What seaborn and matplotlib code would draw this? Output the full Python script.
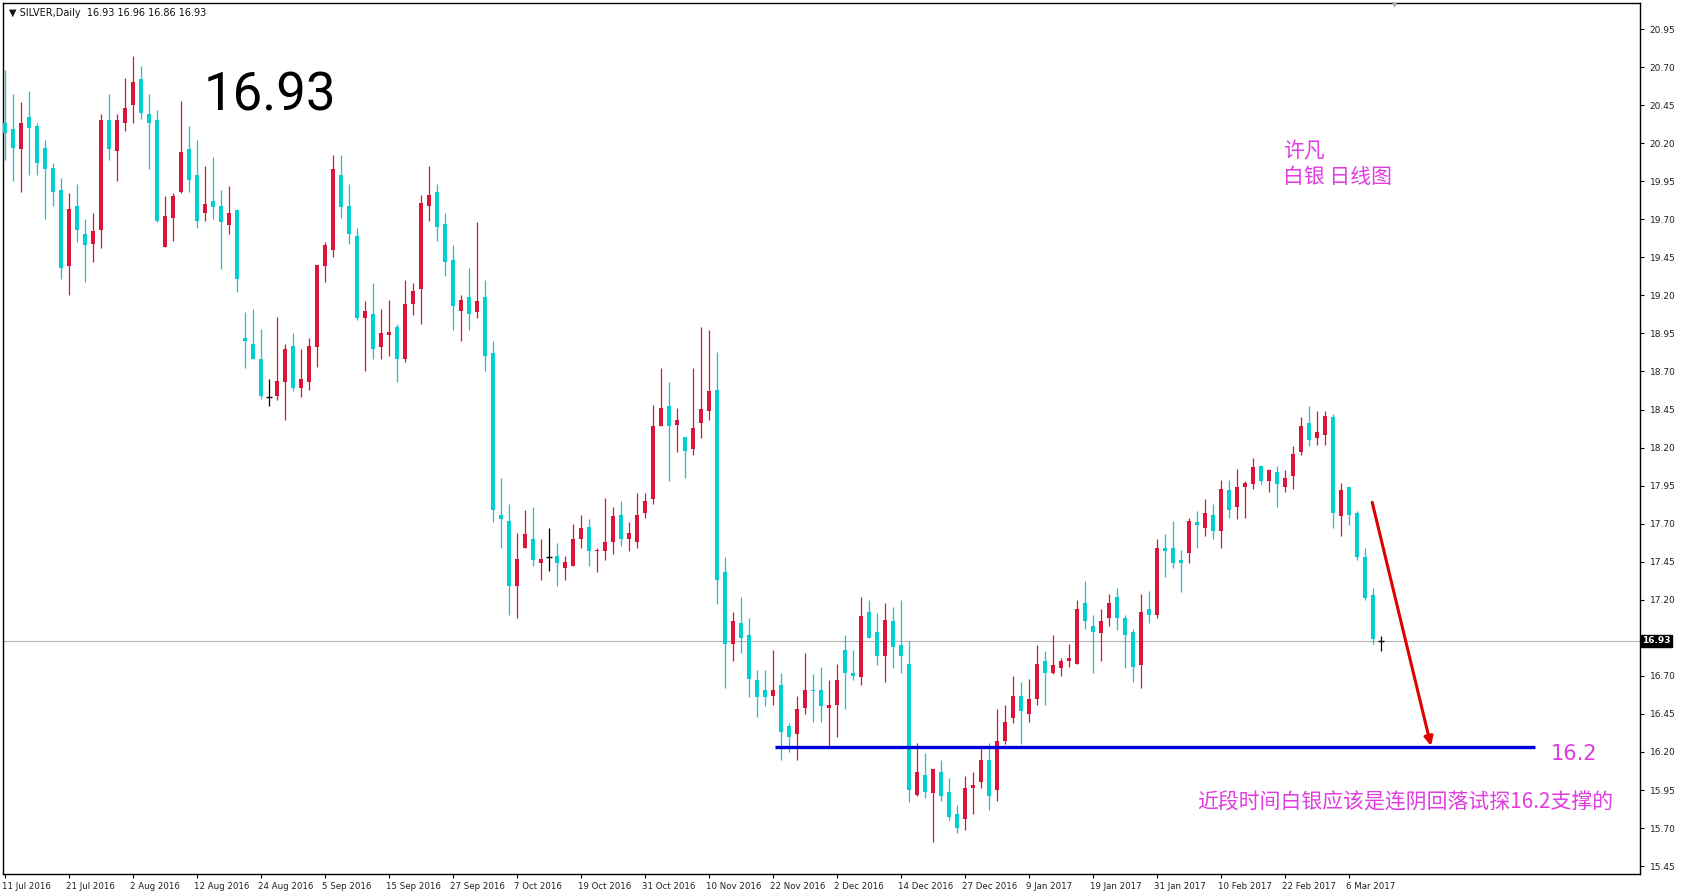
import numpy as np
import pandas as pd
import matplotlib
matplotlib.use("Agg")
import matplotlib.pyplot as plt
import matplotlib.transforms as mtransforms
import seaborn as sns

# ---------------- data ----------------
opens = [20.33, 20.29, 20.16, 20.37, 20.31, 20.17, 20.04, 19.89, 19.39, 19.79,
         19.60, 19.54, 19.63, 20.35, 20.15, 20.33, 20.45, 20.62, 20.39, 20.35,
         19.52, 19.71, 19.88, 20.16, 19.99, 19.74, 19.82, 19.79, 19.66, 19.76,
         18.92, 18.88, 18.78, 18.53, 18.54, 18.63, 18.87, 18.59, 18.63, 18.86,
         19.39, 19.50, 19.99, 19.79, 19.59, 19.05, 19.08, 18.86, 18.94, 18.99,
         18.78, 19.14, 19.24, 19.79, 19.88, 19.67, 19.43, 19.10, 19.19, 19.09,
         19.19, 18.82, 17.76, 17.72, 17.29, 17.54, 17.60, 17.44, 17.48, 17.49,
         17.41, 17.42, 17.60, 17.68, 17.52, 17.52, 17.58, 17.76, 17.60, 17.58,
         17.77, 17.86, 18.34, 18.47, 18.35, 18.27, 18.19, 18.36, 18.44, 18.58,
         17.38, 16.91, 17.05, 16.97, 16.67, 16.61, 16.57, 16.64, 16.37, 16.32,
         16.49, 16.61, 16.61, 16.49, 16.51, 16.87, 16.72, 16.69, 17.12, 16.99,
         16.83, 17.06, 16.90, 16.78, 15.92, 16.05, 15.93, 16.07, 15.94, 15.79,
         15.76, 15.96, 16.00, 16.15, 15.95, 16.27, 16.42, 16.57, 16.45, 16.55,
         16.80, 16.72, 16.75, 16.80, 16.78, 17.18, 17.03, 16.98, 17.08, 17.22,
         17.08, 16.99, 16.77, 17.14, 17.10, 17.54, 17.54, 17.46, 17.51, 17.71,
         17.67, 17.76, 17.65, 17.92, 17.81, 17.94, 17.96, 18.08, 17.98, 18.04,
         17.94, 18.01, 18.17, 18.36, 18.26, 18.28, 18.40, 17.75, 17.94, 17.77,
         17.48, 17.23, 16.93]
highs = [20.68, 20.52, 20.47, 20.54, 20.33, 20.22, 20.07, 19.97, 19.87, 19.93,
         19.70, 19.74, 20.39, 20.52, 20.39, 20.63, 20.77, 20.71, 20.52, 20.42,
         19.85, 19.87, 20.48, 20.31, 20.22, 20.05, 20.11, 19.89, 19.92, 19.77,
         19.09, 19.11, 18.98, 18.65, 19.06, 18.88, 18.95, 18.85, 18.92, 19.40,
         19.55, 20.12, 20.12, 19.93, 19.64, 19.16, 19.28, 19.11, 19.17, 19.01,
         19.30, 19.28, 19.86, 20.05, 19.93, 19.74, 19.53, 19.20, 19.38, 19.68,
         19.30, 18.90, 18.00, 17.83, 17.64, 17.79, 17.81, 17.60, 17.67, 17.57,
         17.49, 17.70, 17.76, 17.73, 17.54, 17.87, 17.81, 17.85, 17.71, 17.90,
         17.90, 18.48, 18.72, 18.63, 18.46, 18.27, 18.72, 18.99, 18.97, 18.83,
         17.48, 17.12, 17.22, 17.08, 16.74, 16.74, 16.87, 16.72, 16.39, 16.57,
         16.85, 16.71, 16.76, 16.67, 16.78, 16.97, 16.87, 17.22, 17.20, 17.11,
         17.18, 17.15, 17.20, 16.93, 16.26, 16.19, 16.09, 16.15, 16.03, 15.85,
         16.04, 16.07, 16.23, 16.26, 16.48, 16.51, 16.70, 16.66, 16.68, 16.90,
         16.86, 16.97, 16.82, 16.91, 17.20, 17.32, 17.10, 17.14, 17.24, 17.28,
         17.10, 17.01, 17.24, 17.26, 17.60, 17.63, 17.72, 17.53, 17.74, 17.78,
         17.86, 17.83, 17.99, 17.99, 18.06, 17.98, 18.13, 18.08, 18.06, 18.08,
         18.05, 18.21, 18.40, 18.47, 18.44, 18.44, 18.42, 17.97, 17.94, 17.78,
         17.54, 17.28, 16.96]
lows = [20.09, 19.95, 19.88, 19.99, 19.99, 19.70, 19.79, 19.31, 19.20, 19.55,
        19.29, 19.42, 19.51, 20.09, 19.95, 20.28, 20.33, 20.36, 20.03, 19.68,
        19.52, 19.56, 19.87, 19.88, 19.64, 19.69, 19.70, 19.37, 19.60, 19.22,
        18.72, 18.78, 18.52, 18.47, 18.51, 18.38, 18.57, 18.53, 18.58, 18.73,
        19.29, 19.45, 19.71, 19.54, 19.04, 18.70, 18.78, 18.78, 18.80, 18.63,
        18.76, 19.07, 19.01, 19.69, 19.56, 19.33, 18.97, 18.90, 18.97, 19.05,
        18.70, 17.71, 17.54, 17.10, 17.08, 17.54, 17.42, 17.33, 17.39, 17.29,
        17.33, 17.42, 17.54, 17.42, 17.38, 17.46, 17.50, 17.55, 17.52, 17.54,
        17.74, 17.83, 18.34, 17.98, 18.17, 18.00, 18.15, 18.26, 18.38, 17.17,
        16.62, 16.80, 16.85, 16.56, 16.43, 16.50, 16.51, 16.15, 16.20, 16.15,
        16.45, 16.40, 16.40, 16.24, 16.30, 16.48, 16.67, 16.64, 16.95, 16.77,
        16.66, 16.75, 16.72, 15.87, 15.91, 15.90, 15.61, 15.88, 15.75, 15.67,
        15.69, 15.79, 15.96, 15.82, 15.88, 16.25, 16.39, 16.25, 16.40, 16.51,
        16.51, 16.71, 16.70, 16.76, 16.78, 17.01, 16.72, 16.80, 17.03, 17.00,
        16.75, 16.66, 16.62, 17.05, 17.08, 17.35, 17.41, 17.25, 17.44, 17.54,
        17.62, 17.60, 17.54, 17.74, 17.73, 17.74, 17.93, 17.96, 17.91, 17.81,
        17.91, 17.93, 18.15, 18.21, 18.22, 18.22, 17.67, 17.62, 17.69, 17.46,
        17.20, 16.91, 16.86]
closes = [20.265, 20.17, 20.33, 20.30, 20.07, 20.03, 19.88, 19.38, 19.77, 19.63,
          19.53, 19.62, 20.35, 20.16, 20.35, 20.43, 20.60, 20.40, 20.33, 19.69,
          19.72, 19.85, 20.14, 19.96, 19.69, 19.80, 19.78, 19.68, 19.74, 19.31,
          18.90, 18.78, 18.54, 18.53, 18.64, 18.85, 18.59, 18.65, 18.87, 19.40,
          19.53, 20.03, 19.78, 19.60, 19.05, 19.10, 18.85, 18.95, 18.96, 18.78,
          19.14, 19.23, 19.81, 19.86, 19.65, 19.42, 19.13, 19.17, 19.08, 19.16,
          18.80, 17.79, 17.73, 17.29, 17.47, 17.63, 17.46, 17.47, 17.48, 17.44,
          17.45, 17.60, 17.67, 17.52, 17.53, 17.58, 17.75, 17.60, 17.64, 17.76,
          17.85, 18.34, 18.46, 18.34, 18.38, 18.18, 18.33, 18.45, 18.57, 17.33,
          16.91, 17.06, 16.95, 16.68, 16.56, 16.56, 16.61, 16.33, 16.30, 16.48,
          16.61, 16.60, 16.50, 16.51, 16.67, 16.72, 16.70, 17.09, 16.95, 16.83,
          17.07, 16.89, 16.83, 15.95, 16.07, 15.94, 16.09, 15.91, 15.77, 15.70,
          15.96, 15.98, 16.15, 15.91, 16.27, 16.40, 16.57, 16.47, 16.55, 16.78,
          16.72, 16.77, 16.80, 16.82, 17.14, 17.06, 16.99, 17.06, 17.18, 17.08,
          16.97, 16.76, 17.12, 17.10, 17.54, 17.52, 17.44, 17.44, 17.72, 17.69,
          17.77, 17.65, 17.93, 17.79, 17.94, 17.97, 18.07, 17.98, 18.05, 17.96,
          18.00, 18.16, 18.34, 18.25, 18.30, 18.41, 17.77, 17.92, 17.76, 17.48,
          17.21, 16.94, 16.93]

date_labels = ["11 Jul 2016", "21 Jul 2016", "2 Aug 2016", "12 Aug 2016", "24 Aug 2016",
               "5 Sep 2016", "15 Sep 2016", "27 Sep 2016", "7 Oct 2016", "19 Oct 2016",
               "31 Oct 2016", "10 Nov 2016", "22 Nov 2016", "2 Dec 2016", "14 Dec 2016",
               "27 Dec 2016", "9 Jan 2017", "19 Jan 2017", "31 Jan 2017", "10 Feb 2017",
               "22 Feb 2017", "6 Mar 2017"]
date_bar_index = [0, 8, 16, 24, 32, 40, 48, 56, 64, 72, 80, 88, 96, 104, 112,
                  120, 128, 136, 144, 152, 160, 168]
price_ticks = [15.45, 15.70, 15.95, 16.20, 16.45, 16.70, 16.95, 17.20, 17.45, 17.70,
               17.95, 18.20, 18.45, 18.70, 18.95, 19.20, 19.45, 19.70, 19.95, 20.20,
               20.45, 20.70, 20.95]
last_price = 16.93
support_level = 16.23
support_span = [96.25, 191.3]
arrow_start = [170.9, 17.84]
arrow_end = [178.25, 16.24]

# ---------------- drawing ----------------
sns.set_theme(style="white")
plt.rcParams['font.family'] = ['DejaVu Sans']
cjk = ['Noto Sans CJK SC', 'DejaVu Sans']

df = pd.DataFrame({"open": opens, "high": highs, "low": lows, "close": closes})
df["x"] = np.arange(len(df))
UP, DOWN, FLAT = "#DC143C", "#00CED1", "#000000"
df["color"] = np.where(df.close > df.open, UP, np.where(df.close < df.open, DOWN, FLAT))

W, H = 1686, 896
fig = plt.figure(figsize=(W / 100, H / 100), dpi=100)
fig.patch.set_facecolor("white")
ax = fig.add_axes([3 / W, 1 - 874 / H, (1640 - 3) / W, (874 - 3) / H])
ax.set_facecolor("white")

# current price line
ax.axhline(last_price, color="#b4b4b4", lw=0.8, zorder=1)

# wicks
ax.vlines(df.x, df.low, df.high, colors=df.color, lw=0.9, zorder=2)
# bodies
body_bottom = np.minimum(df.open, df.close)
body_h = np.maximum(np.abs(df.close - df.open), 0.008)
mask = df.color != FLAT
ax.bar(df.x[mask], body_h[mask], bottom=body_bottom[mask], width=0.62,
       color=df.color[mask], linewidth=0, zorder=3)
flat = df[~mask]
ax.hlines(flat.open, flat.x - 0.35, flat.x + 0.35, colors=FLAT, lw=1.0, zorder=3)

# support line
ax.hlines(support_level, support_span[0], support_span[1], color="#0000DD", lw=2.4, zorder=4)
# arrow
ax.annotate("", xy=tuple(arrow_end), xytext=tuple(arrow_start),
            arrowprops=dict(arrowstyle="-|>", color="#E00000", lw=2.2,
                            mutation_scale=13, shrinkA=0, shrinkB=0), zorder=5)

ax.set_xlim((3 - 5) / 8, (1640 - 5) / 8)
ax.set_ylim(20.95 - (874 - 29) / 152.2, 20.95 + (29 - 3) / 152.2)

for s in ax.spines.values():
    s.set_color("black")
    s.set_linewidth(1.0)
    s.set_visible(True)

ax.yaxis.tick_right()
ax.set_yticks(price_ticks)
# the label next to the current-price box is hidden, as in the terminal
ax.set_yticklabels(["" if abs(v - last_price) < 0.05 else f"{v:.2f}" for v in price_ticks])
ax.tick_params(axis="y", which="major", right=True, left=False, length=3, width=0.8,
               color="black", labelsize=6.5, pad=4, labelcolor="#202020")
ax.set_xticks(date_bar_index)
ax.set_xticklabels(date_labels, ha="left")
ax.tick_params(axis="x", bottom=True, length=3, width=0.8, color="black",
               labelsize=6.2, pad=3, labelcolor="#202020")
for lab in ax.get_xticklabels():
    lab.set_transform(lab.get_transform() + mtransforms.ScaledTranslation(-3 / 100, 0, fig.dpi_scale_trans))
ax.grid(False)

# current price box on right axis
blend = mtransforms.blended_transform_factory(ax.transAxes, ax.transData)
ax.text(1.0015, last_price, f"{last_price:.2f}", transform=blend, ha="left", va="center",
        fontsize=6.5, color="white", fontweight="bold",
        bbox=dict(boxstyle="square,pad=0.15", fc="black", ec="black"), zorder=10, clip_on=False)

# texts
def fx(px):
    return px / W

def fy(py):
    return 1 - py / H

fig.text(fx(9), fy(13), "▼ SILVER,Daily  16.93 16.96 16.86 16.93", fontsize=7,
         color="#101010", ha="left", va="center")
fig.text(fx(1395), fy(5), "▼", fontsize=5, color="#a8a8a8", ha="center", va="center")
fig.text(fx(270), fy(96), "16.93", fontsize=38, color="black", ha="center", va="center",
         family=["Roboto", "DejaVu Sans"])
MAG = "#E03CE0"
fig.text(fx(1283), fy(150), "许凡", fontsize=15, color=MAG, ha="left", va="center", family=cjk)
fig.text(fx(1283), fy(177), "白银 日线图", fontsize=15, color=MAG, ha="left", va="center", family=cjk)
ax.text(196.1, 16.187, "16.2", fontsize=15, color=MAG, ha="center", va="center")
fig.text(fx(1197), fy(803), "近段时间白银应该是连阴回落试探16.2支撑的", fontsize=15, color=MAG,
         ha="left", va="center", family=cjk)

fig.savefig("out.png", dpi=100, facecolor="white")
